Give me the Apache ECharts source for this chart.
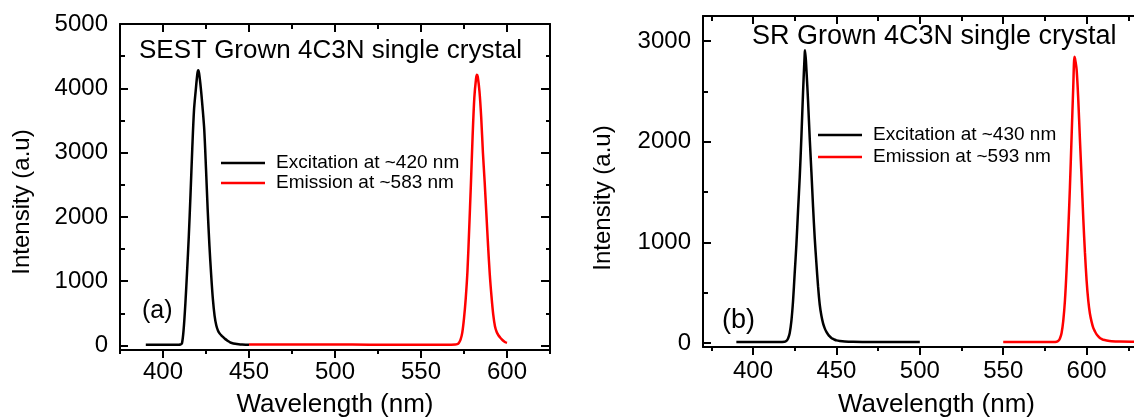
<!DOCTYPE html>
<html><head><meta charset="utf-8">
<script src="https://cdn.jsdelivr.net/npm/echarts@6/dist/echarts.min.js"></script>
<style>html,body{margin:0;padding:0;background:#fff}#c{width:1134px;height:419px}</style>
</head><body><div id="c"></div>
<script>
// ---- Panel (a): SEST grown ----
const excA_wl = [390,395,400,405,408,409,410,411,412,413,414,415,416,417,418,419,420,420.5,421,422,423,424,425,426,427,428,429,430,431,432,433,434,435,436,437,438,439,440,442,444,446,448,450];
const excA_int = [10,10,10,10,10,12,15,30,250,650,1150,1700,2350,3050,3650,3960,4230,4280,4230,4000,3700,3350,2750,2100,1550,1100,720,460,310,230,185,155,130,105,85,65,50,40,28,20,15,12,10];
const emA_wl = [450,470,490,510,530,550,565,570,571,572,573,574,575,576,577,578,579,580,581,582,582.5,583,584,585,586,587,588,589,590,591,592,593,594,595,596,597,598,599,600];
const emA_int = [15,15,15,15,12,12,12,15,20,40,90,200,420,730,1150,1800,2500,3250,3850,4150,4210,4180,3950,3550,3000,2550,2050,1550,1100,760,480,300,210,160,125,95,70,50,40];
// ---- Panel (b): SR grown ----
const excB_wl = [390,400,410,415,419,420,421,422,423,424,425,426,427,428,429,430,431,431.2,432,433,434,435,436,437,438,439,440,441,442,443,444,445,446,447,448,449,450,452,455,460,470,480,490,500];
const excB_int = [10,10,10,10,12,20,45,100,220,420,700,980,1320,1650,2050,2500,2880,2910,2720,2400,2030,1700,1350,1040,790,560,380,270,195,145,110,85,65,50,40,32,26,20,15,12,10,10,10,10];
const emB_wl = [550,560,570,580,582,583,584,585,586,587,588,589,590,591,592,592.7,593,594,595,596,597,598,599,600,601,602,603,604,605,606,607,608,609,610,612,615,620,630,640,650];
const emB_int = [10,10,10,10,12,20,45,100,220,420,730,1120,1550,2050,2550,2845,2830,2720,2420,2020,1640,1240,900,620,420,290,210,150,115,85,65,50,40,32,25,18,14,12,10,10];
// ---- Ticks ----
const xMajorA = [400,450,500,550,600];
const xMinorA = [375,425,475,525,575,625];
const yMajorA = [0,1000,2000,3000,4000,5000];
const yMinorA = [500,1500,2500,3500,4500];
const xMajorB = [400,450,500,550,600,650];
const xMinorB = [375,425,475,525,575,625];
const yMajorB = [0,1000,2000,3000];
const yMinorB = [500,1500,2500];
const legendA = ['Excitation at ~420 nm','Emission at ~583 nm'];
const legendB = ['Excitation at ~430 nm','Emission at ~593 nm'];

const FONT = '"Liberation Sans", Arial, sans-serif';
const pairs = (a,b) => a.map((v,i)=>[v,b[i]]);
const blk = '#000';

function xAxes(grid, min, max, majors, minors, margin, nameGap) {
  const base = {type:'value', gridIndex:grid, min, max, splitLine:{show:false}};
  return [
    Object.assign({}, base, {position:'bottom',
      axisLine:{show:true,onZero:false,lineStyle:{color:blk,width:2}},
      axisTick:{show:true,inside:false,length:8,lineStyle:{color:blk,width:2},customValues:majors},
      axisLabel:{show:true,customValues:majors,margin,color:blk,fontSize:24,fontFamily:FONT,formatter:v=>String(v)},
      name:'Wavelength (nm)', nameLocation:'middle', nameGap,
      nameTextStyle:{color:blk,fontSize:26,fontFamily:FONT}}),
    Object.assign({}, base, {position:'bottom',
      axisLine:{show:false,onZero:false},
      axisTick:{show:true,inside:false,length:4,lineStyle:{color:blk,width:2},customValues:minors},
      axisLabel:{show:false}}),
    Object.assign({}, base, {position:'top',
      axisLine:{show:true,onZero:false,lineStyle:{color:blk,width:2}},
      axisTick:{show:true,inside:true,length:8,lineStyle:{color:blk,width:2},customValues:majors},
      axisLabel:{show:false}}),
    Object.assign({}, base, {position:'top',
      axisLine:{show:false,onZero:false},
      axisTick:{show:true,inside:true,length:5,lineStyle:{color:blk,width:2},customValues:minors},
      axisLabel:{show:false}})
  ];
}
function yAxes(grid, min, max, majors, minors, nameGap, shift) {
  const base = {type:'value', gridIndex:grid, min, max, splitLine:{show:false}};
  return [
    Object.assign({}, base, {position:'left',
      axisLine:{show:true,onZero:false,lineStyle:{color:blk,width:2}},
      axisTick:{show:true,inside:true,length:8,lineStyle:{color:blk,width:2},customValues:majors},
      axisLabel:{show:true,customValues:majors,margin:12,color:blk,fontSize:24,fontFamily:FONT,formatter:v=>String(v)},
      name:'Intensity (a.u)', nameLocation:'middle', nameGap,
      nameTextStyle:{color:blk,fontSize:24,fontFamily:FONT,padding:[0,shift,0,0]}}),
    Object.assign({}, base, {position:'left',
      axisLine:{show:false,onZero:false},
      axisTick:{show:true,inside:true,length:5,lineStyle:{color:blk,width:2},customValues:minors},
      axisLabel:{show:false}}),
    Object.assign({}, base, {position:'right',
      axisLine:{show:true,onZero:false,lineStyle:{color:blk,width:2}},
      axisTick:{show:true,inside:true,length:9,lineStyle:{color:blk,width:2},customValues:majors},
      axisLabel:{show:false}}),
    Object.assign({}, base, {position:'right',
      axisLine:{show:false,onZero:false},
      axisTick:{show:true,inside:true,length:4,lineStyle:{color:blk,width:2},customValues:minors},
      axisLabel:{show:false}})
  ];
}
function line(name, xi, wl, it, color) {
  return {type:'line', name, xAxisIndex:xi, yAxisIndex:xi, data:pairs(wl,it),
    symbol:'none', smooth:0.3, lineStyle:{color,width:2.5}, itemStyle:{color}, z:3};
}
const legendBase = (data, left, top, lh) => ({data, orient:'vertical', left, top, icon:'rect',
  itemWidth:44, itemHeight:2.5, itemGap:0, padding:0,
  textStyle:{color:blk,fontSize:19,fontFamily:FONT,lineHeight:lh,padding:[0,0,0,6]}});

const chart = echarts.init(document.getElementById('c'), null, {renderer:'canvas'});
chart.setOption({
  animation:false,
  backgroundColor:'#fff',
  grid:[{left:120, top:24, width:430, height:326, outerBoundsMode:'none', containLabel:false},
        {left:703, top:16, width:467, height:331, outerBoundsMode:'none', containLabel:false}],
  title:[
    {text:'SEST Grown 4C3N single crystal', left:139, top:38, padding:0, textStyle:{fontSize:26,fontWeight:'normal',color:blk,fontFamily:FONT}},
    {text:'SR Grown 4C3N single crystal', left:752, top:23, padding:0, textStyle:{fontSize:27,fontWeight:'normal',color:blk,fontFamily:FONT}},
    {text:'(a)', left:142, top:299, padding:0, textStyle:{fontSize:25,fontWeight:'normal',color:blk,fontFamily:FONT}},
    {text:'(b)', left:722, top:307, padding:0, textStyle:{fontSize:27,fontWeight:'normal',color:blk,fontFamily:FONT}}
  ],
  legend:[legendBase(legendA,221,153,20), legendBase(legendB,818,124,22)],
  xAxis:[].concat(xAxes(0,375,625,xMajorA,xMinorA,10,42), xAxes(1,370,650,xMajorB,xMinorB,12,45)),
  yAxis:[].concat(yAxes(0,-70,5000,yMajorA,yMinorA,86,30), yAxes(1,-40,3250,yMajorB,yMinorB,88,33)),
  series:[
    line(legendA[0],0,excA_wl,excA_int,'#000000'),
    line(legendA[1],0,emA_wl,emA_int,'#ff0000'),
    line(legendB[0],4,excB_wl,excB_int,'#000000'),
    line(legendB[1],4,emB_wl,emB_int,'#ff0000')
  ]
});
</script></body></html>
